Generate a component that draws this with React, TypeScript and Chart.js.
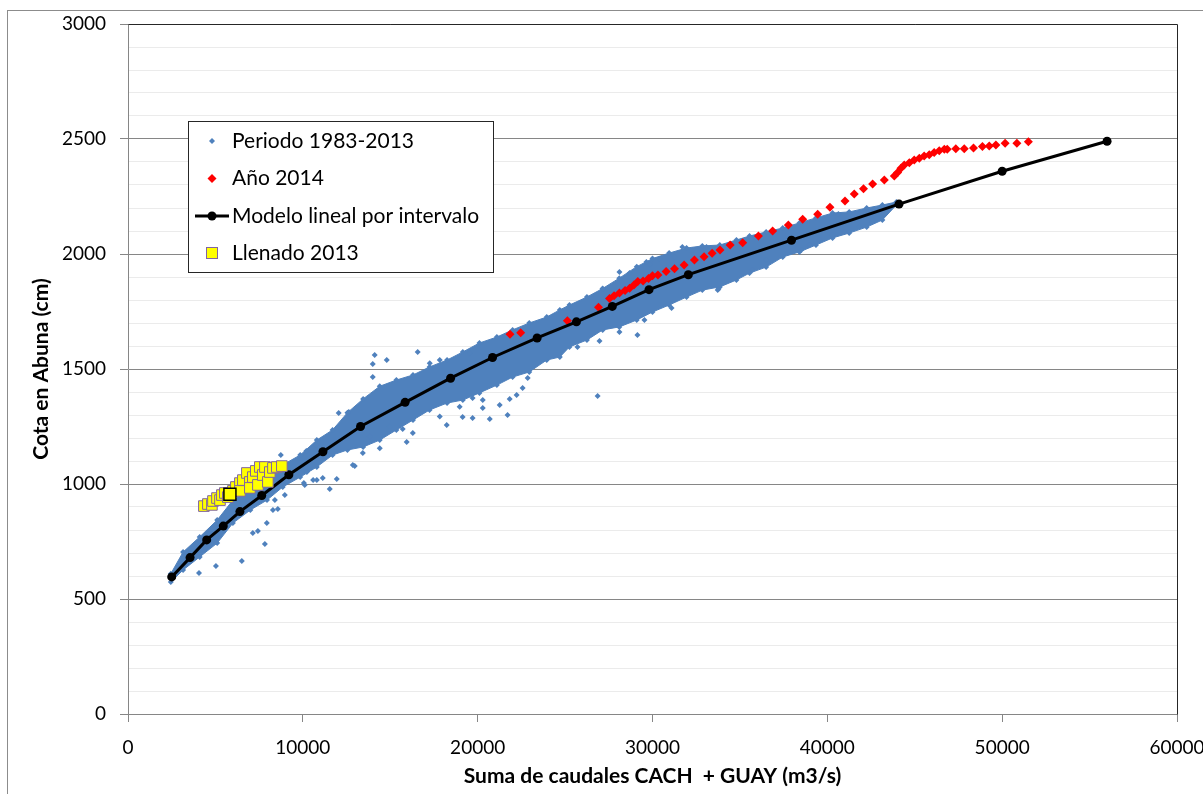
import { useEffect, useRef } from "react";
import { Chart, registerables } from "chart.js";

Chart.register(...registerables);

const FONT = "Lato, 'Open Sans', sans-serif";
const BLUE = "#4F81BD";
const RED = "#FF0000";
const YELLOW = "#FFFF00";
const PURPLE = "#8064A2";

// Modelo lineal por intervalo (nodos del modelo)
const modelQ = [2500, 3550, 4500, 5450, 6400, 7650, 9200, 11150, 13300, 15850, 18450, 20850, 23400, 25650, 27700, 29800, 32050, 37950, 44100, 50000, 56000];
const modelCota = [596, 680, 757, 817, 880, 950, 1040, 1140, 1250, 1355, 1460, 1550, 1635, 1705, 1772, 1845, 1910, 2060, 2217, 2360, 2490];

// Año 2014
const q2014 = [21850, 22460, 25130, 26910, 27540, 27800, 28110, 28430, 28690, 28940, 29160, 29460, 29770, 30000, 30310, 30780, 31260, 31810, 32400, 32950, 33410, 33860, 34440, 35160, 36060, 36870, 37770, 38590, 39450, 40150, 41010, 41540, 42070, 42590, 43260, 43830, 44020, 44210, 44400, 44690, 44970, 45260, 45540, 45830, 46110, 46400, 46690, 46860, 47350, 47830, 48360, 48870, 49260, 49640, 50170, 50840, 51500];
const cota2014 = [1651, 1658, 1710, 1768, 1807, 1818, 1830, 1841, 1851, 1865, 1880, 1883, 1894, 1905, 1909, 1924, 1936, 1952, 1974, 1988, 2003, 2017, 2039, 2049, 2078, 2100, 2126, 2151, 2173, 2203, 2230, 2261, 2284, 2304, 2322, 2339, 2354, 2373, 2387, 2397, 2409, 2416, 2426, 2432, 2441, 2449, 2455, 2455, 2458, 2458, 2461, 2467, 2470, 2474, 2481, 2481, 2488];

// Llenado 2013
const qLlenado = [4340, 4570, 4800, 4860, 5090, 5260, 5370, 5540, 5710, 6000, 6170, 6400, 6400, 6570, 6800, 6970, 6970, 7140, 7310, 7430, 7540, 7710, 7830, 8000, 8110, 8290, 8510, 8800];
const cotaLlenado = [904, 913, 909, 926, 939, 930, 952, 961, 943, 970, 987, 1004, 970, 1017, 1048, 1009, 983, 1030, 1057, 996, 1074, 1039, 1074, 1009, 1052, 1070, 1074, 1078];
// último registro del llenado
const qLlenadoUltimo = [5830];
const cotaLlenadoUltimo = [955];

// Periodo 1983-2013: franja densa de registros (borde superior e inferior)
const bandQ = [2450, 3150, 4100, 5100, 6000, 7000, 7950, 8850, 9850, 10800, 11700, 12550, 13450, 14400, 15350, 16300, 17250, 18250, 19150, 20100, 21100, 22000, 22950, 23950, 24700, 25250, 26250, 27150, 28100, 29100, 30000, 30950, 31950, 32850, 33850, 34800, 35550, 36500, 37450, 38400, 39350, 40300, 41250, 42250, 43150, 43950];
const bandTop = [610, 704, 770, 843, 930, 974, 1026, 1083, 1126, 1191, 1235, 1310, 1370, 1425, 1452, 1474, 1509, 1539, 1574, 1613, 1639, 1670, 1700, 1726, 1757, 1778, 1813, 1850, 1895, 1945, 1980, 2004, 2026, 2035, 2039, 2061, 2078, 2096, 2113, 2135, 2157, 2178, 2183, 2200, 2213, 2226];
const bandBottom = [574, 626, 683, 743, 830, 887, 930, 987, 1030, 1074, 1126, 1148, 1161, 1191, 1235, 1278, 1322, 1352, 1365, 1396, 1430, 1465, 1487, 1539, 1552, 1596, 1626, 1670, 1683, 1713, 1748, 1778, 1813, 1843, 1857, 1887, 1917, 1943, 1987, 2009, 2039, 2070, 2091, 2117, 2148, 2213];

// Periodo 1983-2013: registros dispersos fuera de la franja
const scatterQ = [12050, 12630, 8740, 11540, 11940, 11140, 7830, 6510, 5030, 4060, 7140, 7430, 7940, 8290, 10060, 10800, 12860, 13430, 8570, 10230, 16570, 14800, 14000, 14000, 12970, 15940, 16290, 15710, 18230, 19140, 19710, 20290, 20690, 21710, 21260, 21830, 22230, 22570, 22860, 20290, 19710, 26860, 29140, 28110, 26970, 29540, 25710, 28110, 28690, 27140, 31090, 30400, 31260, 31710, 32290, 33770, 33090, 35710, 38510, 40290, 40970, 42510, 43090, 40630, 41260, 14110,
  10200, 10800, 9450, 10110, 10590, 8970, 8400, 14400, 13830, 14970, 18970, 17830, 17260, 17830, 19540, 33730, 36500, 38970, 39540, 41830, 42590, 29650, 29850];
const scatterCota = [1309, 1313, 1126, 978, 1022, 1026, 739, 665, 643, 613, 787, 796, 830, 887, 1004, 1017, 1083, 1135, 891, 1052, 1574, 1539, 1522, 1465, 1078, 1183, 1222, 1239, 1257, 1291, 1287, 1330, 1283, 1300, 1343, 1370, 1387, 1417, 1461, 1365, 1374, 1383, 1648, 1661, 1622, 1713, 1596, 1922, 1917, 1848, 1765, 1978, 1987, 2030, 2017, 1848, 2030, 1930, 2017, 2083, 2096, 2139, 2161, 2174, 2178, 1561,
  1143, 1170, 1075, 996, 1017, 952, 930, 1155, 1206, 1249, 1336, 1293, 1525, 1539, 1568, 1843, 1974, 2039, 2061, 2119, 2148, 1965, 1955];

const legendItems = ["Periodo 1983-2013", "Año 2014", "Modelo lineal por intervalo", "Llenado 2013"];

const xTicks = { min: 0, max: 60000, step: 10000 };
const yTicks = { min: 0, max: 3000, step: 100, major: 500 };

const pts = (xs: number[], ys: number[]) => xs.map((x, i) => ({ x, y: ys[i] }));

// Marco exterior, borde del área de trazado y leyenda
const decorations = {
  id: "decorations",
  beforeDraw(chart: any) {
    const { ctx, width, height } = chart;
    ctx.save();
    ctx.fillStyle = "#ffffff";
    ctx.fillRect(0, 0, width, height);
    ctx.strokeStyle = "#8c8c8c";
    ctx.lineWidth = 1;
    ctx.strokeRect(7.5, 10.5, width + 20, height + 20);
    ctx.restore();
  },
  afterDraw(chart: any) {
    const { ctx, chartArea } = chart;
    const { left, right, top, bottom } = chartArea;
    ctx.save();
    ctx.strokeStyle = "#262626";
    ctx.lineWidth = 1;
    ctx.beginPath();
    ctx.moveTo(Math.round(left) + 0.5, Math.round(top) + 0.5);
    ctx.lineTo(Math.round(right) + 0.5, Math.round(top) + 0.5);
    ctx.lineTo(Math.round(right) + 0.5, Math.round(bottom) + 0.5);
    ctx.stroke();

    // leyenda
    const bx = 188, by = 121, bw = 305, bh = 151;
    ctx.fillStyle = "#ffffff";
    ctx.fillRect(bx, by, bw, bh);
    ctx.strokeStyle = "#262626";
    ctx.strokeRect(bx + 0.5, by + 0.5, bw, bh);

    const mx = 212;
    const rows = [141, 178.5, 216, 253];
    ctx.font = `21px ${FONT}`;
    ctx.fillStyle = "#000";
    ctx.textBaseline = "middle";
    ctx.textAlign = "left";
    legendItems.forEach((t, i) => ctx.fillText(t, 232, rows[i]));

    const diamond = (x: number, y: number, r: number, color: string) => {
      ctx.beginPath();
      ctx.moveTo(x, y - r);
      ctx.lineTo(x + r, y);
      ctx.lineTo(x, y + r);
      ctx.lineTo(x - r, y);
      ctx.closePath();
      ctx.fillStyle = color;
      ctx.fill();
    };
    diamond(mx, rows[0], 3, BLUE);
    diamond(mx, rows[1], 4.5, RED);

    ctx.strokeStyle = "#000";
    ctx.lineWidth = 3;
    ctx.beginPath();
    ctx.moveTo(195, rows[2]);
    ctx.lineTo(229, rows[2]);
    ctx.stroke();
    ctx.beginPath();
    ctx.arc(mx, rows[2], 4.5, 0, Math.PI * 2);
    ctx.fillStyle = "#000";
    ctx.fill();

    ctx.fillStyle = YELLOW;
    ctx.fillRect(mx - 5.5, rows[3] - 5.5, 11, 11);
    ctx.strokeStyle = PURPLE;
    ctx.lineWidth = 1;
    ctx.strokeRect(mx - 5.5, rows[3] - 5.5, 11, 11);
    ctx.restore();
  },
};

export default function App() {
  const canvasRef = useRef<HTMLCanvasElement | null>(null);

  useEffect(() => {
    const canvas = canvasRef.current;
    if (!canvas) return;

    const chart = new Chart(canvas, {
      type: "scatter",
      data: {
        datasets: [
          {
            label: "Periodo 1983-2013 (franja)",
            data: pts(bandQ, bandTop),
            showLine: true,
            borderColor: BLUE,
            borderWidth: 1,
            backgroundColor: BLUE,
            fill: "+1",
            pointStyle: "rectRot",
            pointRadius: 3,
            pointBackgroundColor: BLUE,
            pointBorderWidth: 0,
            order: 10,
          },
          {
            label: "Periodo 1983-2013 (franja inferior)",
            data: pts(bandQ, bandBottom),
            showLine: true,
            borderColor: BLUE,
            borderWidth: 1,
            backgroundColor: BLUE,
            fill: false,
            pointStyle: "rectRot",
            pointRadius: 3,
            pointBackgroundColor: BLUE,
            pointBorderWidth: 0,
            order: 11,
          },
          {
            label: "Periodo 1983-2013",
            data: pts(scatterQ, scatterCota),
            pointStyle: "rectRot",
            pointRadius: 3,
            backgroundColor: BLUE,
            pointBackgroundColor: BLUE,
            pointBorderWidth: 0,
            order: 9,
          },
          {
            label: "Año 2014",
            data: pts(q2014, cota2014),
            pointStyle: "rectRot",
            pointRadius: 4.5,
            pointBackgroundColor: RED,
            backgroundColor: RED,
            pointBorderWidth: 0,
            order: 5,
          },
          {
            label: "Modelo lineal por intervalo",
            data: pts(modelQ, modelCota),
            showLine: true,
            borderColor: "#000",
            borderWidth: 3,
            fill: false,
            tension: 0,
            pointStyle: "circle",
            pointRadius: 4.5,
            pointBackgroundColor: "#000",
            pointBorderWidth: 0,
            order: 3,
          },
          {
            label: "Llenado 2013",
            data: pts(qLlenado, cotaLlenado),
            pointStyle: "rect",
            pointRadius: 7.5,
            pointBackgroundColor: YELLOW,
            pointBorderColor: PURPLE,
            pointBorderWidth: 1,
            order: 2,
          },
          {
            label: "Llenado 2013 (último)",
            data: pts(qLlenadoUltimo, cotaLlenadoUltimo),
            pointStyle: "rect",
            pointRadius: 8.5,
            pointBackgroundColor: YELLOW,
            pointBorderColor: "#000",
            pointBorderWidth: 1.5,
            order: 1,
          },
        ],
      },
      options: {
        animation: false,
        responsive: false,
        devicePixelRatio: 1,
        layout: { padding: { top: 24, right: 26, left: 0, bottom: 0 } },
        plugins: {
          legend: { display: false },
          tooltip: { enabled: false },
        },
        scales: {
          x: {
            type: "linear",
            min: xTicks.min,
            max: xTicks.max,
            ticks: {
              stepSize: xTicks.step,
              padding: 14,
              color: "#000",
              maxRotation: 0,
              font: { family: FONT, size: 19 },
              callback: (v: any) => String(v),
            },
            grid: {
              drawOnChartArea: false,
              drawTicks: true,
              tickLength: 8,
              tickColor: "#868686",
              color: "#868686",
            },
            border: { color: "#868686", width: 1 },
            title: {
              display: true,
              text: "Suma de caudales CACH  + GUAY (m3/s)",
              color: "#000",
              font: { family: FONT, size: 21, weight: "bold" },
              padding: { top: 0, bottom: 5 },
            },
            afterFit: (s: any) => {
              s.height = 80;
              s.paddingLeft = 0;
              s.paddingRight = 0;
            },
          },
          y: {
            type: "linear",
            min: yTicks.min,
            max: yTicks.max,
            ticks: {
              stepSize: yTicks.step,
              autoSkip: false,
              padding: 14,
              color: "#000",
              font: { family: FONT, size: 19 },
              callback: (v: any) => (Number(v) % yTicks.major === 0 ? String(v) : ""),
            },
            grid: {
              tickLength: 8,
              color: (c: any) => (c.tick && c.tick.value % yTicks.major === 0 ? "#868686" : "#ebebeb"),
              tickColor: (c: any) => (c.tick && c.tick.value % yTicks.major === 0 ? "#868686" : "rgba(0,0,0,0)"),
            },
            border: { color: "#868686", width: 1 },
            title: {
              display: true,
              text: "Cota en Abuna (cm)",
              color: "#000",
              font: { family: FONT, size: 21, weight: "bold" },
              padding: { top: 29, bottom: 0 },
            },
            afterFit: (s: any) => {
              s.width = 128;
              s.paddingTop = 0;
              s.paddingBottom = 0;
            },
          },
        },
      },
      plugins: [decorations],
    } as any);

    return () => chart.destroy();
  }, []);

  return (
    <div style={{ position: "fixed", left: 0, top: 0, width: 1203, height: 794, background: "#fff" }}>
      <canvas ref={canvasRef} width={1203} height={794} style={{ display: "block" }} />
    </div>
  );
}
